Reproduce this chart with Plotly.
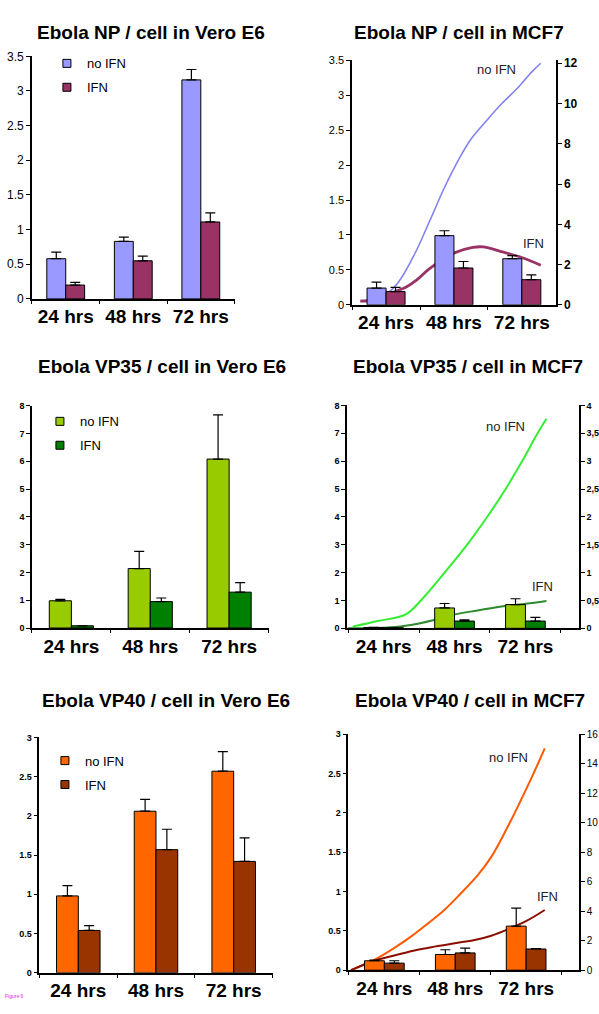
import plotly.graph_objects as go

W, H = 599, 1014
FONT = "Arial, Liberation Sans, sans-serif"

# ---------------- data ----------------
categories = ["24 hrs", "48 hrs", "72 hrs"]
series_names = ["no IFN", "IFN"]
titles = ["Ebola NP / cell in Vero E6", "Ebola NP / cell in MCF7",
          "Ebola VP35 / cell in Vero E6", "Ebola VP35 / cell in MCF7",
          "Ebola VP40 / cell in Vero E6", "Ebola VP40 / cell in MCF7"]

# NP in Vero E6
np_vero_noifn = [0.58, 0.83, 3.16]
np_vero_noifn_err = [0.095, 0.062, 0.15]
np_vero_ifn = [0.20, 0.55, 1.11]
np_vero_ifn_err = [0.038, 0.066, 0.13]

# NP in MCF7 (bars, left axis)
np_mcf7_noifn = [0.24, 0.99, 0.66]
np_mcf7_noifn_err = [0.085, 0.07, 0.045]
np_mcf7_ifn = [0.19, 0.527, 0.36]
np_mcf7_ifn_err = [0.06, 0.093, 0.07]
# NP in MCF7 (curves, right axis) - time in hours
np_curve_noifn_hrs = [15, 25.2, 28.9, 34.2, 39.5, 44.7, 50.0, 54.1, 59.4, 64.6, 70.5, 75.7, 78.7]
np_curve_noifn = [0.15, 0.66, 1.23, 2.55, 4.19, 5.84, 7.3, 8.25, 9.13, 9.95, 10.77, 11.6, 12.0]
np_curve_ifn_hrs = [14.9, 17.2, 24, 31.3, 34.8, 39.5, 48.2, 54.7, 58.2, 65.2, 72.2, 78.7]
np_curve_ifn = [0.2, 0.2, 0.5, 0.9, 1.23, 1.81, 2.58, 2.85, 2.88, 2.63, 2.34, 1.97]

# VP35 in Vero E6
vp35_vero_noifn = [0.98, 2.14, 6.08]
vp35_vero_noifn_err = [0.05, 0.62, 1.59]
vp35_vero_ifn = [0.08, 0.95, 1.29]
vp35_vero_ifn_err = [0.0, 0.13, 0.34]

# VP35 in MCF7
vp35_mcf7_noifn = [0.03, 0.73, 0.85]
vp35_mcf7_noifn_err = [0.0, 0.16, 0.21]
vp35_mcf7_ifn = [0.02, 0.26, 0.26]
vp35_mcf7_ifn_err = [0.0, 0.04, 0.13]
vp35_curve_noifn_hrs = [13.5, 22.0, 31.5, 36.6, 44.5, 52.4, 59.2, 65.4, 71.0, 76.1, 79.1]
vp35_curve_noifn = [0.03, 0.13, 0.25, 0.50, 0.99, 1.51, 2.01, 2.51, 3.01, 3.50, 3.76]
vp35_curve_ifn_hrs = [11.8, 24.2, 33.2, 41.1, 48.1, 55.8, 65.1, 72.1, 79.1]
vp35_curve_ifn = [0.0, 0.01, 0.06, 0.15, 0.25, 0.32, 0.40, 0.44, 0.49]

# VP40 in Vero E6
vp40_vero_noifn = [0.98, 2.06, 2.57]
vp40_vero_noifn_err = [0.13, 0.15, 0.25]
vp40_vero_ifn = [0.54, 1.57, 1.42]
vp40_vero_ifn_err = [0.06, 0.26, 0.30]

# VP40 in MCF7
vp40_mcf7_noifn = [0.12, 0.20, 0.56]
vp40_mcf7_noifn_err = [0.01, 0.06, 0.23]
vp40_mcf7_ifn = [0.09, 0.22, 0.27]
vp40_mcf7_ifn_err = [0.03, 0.06, 0.005]
vp40_curve_noifn_hrs = [12.7, 17.2, 21.7, 27.4, 33.1, 38.7, 44.4, 50.0, 55.7, 60.2, 64.8, 69.3, 73.8, 78.3]
vp40_curve_noifn = [0.0, 0.4, 0.82, 1.51, 2.29, 3.16, 4.10, 5.23, 6.46, 7.68, 9.35, 11.14, 13.03, 15.03]
vp40_curve_ifn_hrs = [12.7, 19.5, 27.4, 34.2, 41.0, 47.8, 54.6, 60.2, 65.9, 72.1, 78.3]
vp40_curve_ifn = [0.0, 0.56, 1.0, 1.34, 1.6, 1.83, 2.05, 2.34, 2.78, 3.34, 4.08]

# tick values / labels
ticks_0_35 = [0, 0.5, 1, 1.5, 2, 2.5, 3, 3.5]
ticks_0_35_text = ["0", "0.5", "1", "1.5", "2", "2.5", "3", "3.5"]
ticks_0_12 = [0, 2, 4, 6, 8, 10, 12]
ticks_0_8 = [0, 1, 2, 3, 4, 5, 6, 7, 8]
ticks_0_4 = [0, 0.5, 1, 1.5, 2, 2.5, 3, 3.5, 4]
ticks_0_4_text = ["0", "0,5", "1", "1,5", "2", "2,5", "3", "3,5", "4"]
ticks_0_3 = [0, 0.5, 1, 1.5, 2, 2.5, 3]
ticks_0_3_text = ["0", "0.5", "1", "1.5", "2", "2.5", "3"]
ticks_0_16 = [0, 2, 4, 6, 8, 10, 12, 14, 16]

# colours
np_cols = ["#9999FF", "#993366"]
np_line_cols = ["#8282F2", "#993366"]
vp35_cols = ["#99CC00", "#008000"]
vp35_line_cols = ["#33EE33", "#2E8B2E"]
vp40_cols = ["#FF6600", "#993300"]
vp40_line_cols = ["#FF5A00", "#8B0F00"]


def dx(a, b):
    return [a / W, b / W]


def dy(top, bottom):
    return [1 - bottom / H, 1 - top / H]


fig = go.Figure()


def add_bars(xa, ya, noifn, noifn_err, ifn, ifn_err, cols):
    for vals, errs, col, name in [(noifn, noifn_err, cols[0], series_names[0]),
                                  (ifn, ifn_err, cols[1], series_names[1])]:
        fig.add_trace(go.Bar(
            x=categories, y=vals, name=name, showlegend=False,
            marker=dict(color=col, line=dict(color="black", width=1)),
            error_y=dict(type="data", symmetric=False, array=errs,
                         arrayminus=[0] * len(errs), color="black",
                         thickness=1.2, width=5),
            xaxis=xa, yaxis=ya))


def add_legend(xa, ya, cols, legend_id):
    for col, name in zip(cols, series_names):
        fig.add_trace(go.Scatter(
            x=[None], y=[None], mode="markers", name=name,
            marker=dict(symbol="square", size=8, color=col,
                        line=dict(color="black", width=1)),
            legend=legend_id, legendgroup=legend_id + name,
            xaxis=xa, yaxis=ya))


def add_curves(xa, ya, hrs_a, vals_a, hrs_b, vals_b, cols, widths):
    for h, v, col, w, name in [(hrs_a, vals_a, cols[0], widths[0], series_names[0]),
                               (hrs_b, vals_b, cols[1], widths[1], series_names[1])]:
        fig.add_trace(go.Scatter(
            x=h, y=v, mode="lines", name=name, showlegend=False,
            line=dict(color=col, width=w, shape="spline", smoothing=1.0),
            xaxis=xa, yaxis=ya))


# panel 1
add_bars("x", "y", np_vero_noifn, np_vero_noifn_err, np_vero_ifn, np_vero_ifn_err, np_cols)
add_legend("x", "y", np_cols, "legend")
# panel 2: curves on main subplot, bars on overlay (drawn on top)
add_curves("x2", "y2", np_curve_noifn_hrs, np_curve_noifn, np_curve_ifn_hrs, np_curve_ifn,
           np_line_cols, [1.6, 2.8])
add_bars("x3", "y3", np_mcf7_noifn, np_mcf7_noifn_err, np_mcf7_ifn, np_mcf7_ifn_err, np_cols)
# panel 3
add_bars("x4", "y4", vp35_vero_noifn, vp35_vero_noifn_err, vp35_vero_ifn, vp35_vero_ifn_err, vp35_cols)
add_legend("x4", "y4", vp35_cols, "legend2")
# panel 4
add_curves("x5", "y5", vp35_curve_noifn_hrs, vp35_curve_noifn, vp35_curve_ifn_hrs, vp35_curve_ifn,
           vp35_line_cols, [2.0, 2.0])
add_bars("x6", "y6", vp35_mcf7_noifn, vp35_mcf7_noifn_err, vp35_mcf7_ifn, vp35_mcf7_ifn_err, vp35_cols)
# panel 5
add_bars("x7", "y7", vp40_vero_noifn, vp40_vero_noifn_err, vp40_vero_ifn, vp40_vero_ifn_err, vp40_cols)
add_legend("x7", "y7", vp40_cols, "legend3")
# panel 6
add_curves("x8", "y8", vp40_curve_noifn_hrs, vp40_curve_noifn, vp40_curve_ifn_hrs, vp40_curve_ifn,
           vp40_line_cols, [2.0, 2.0])
add_bars("x9", "y9", vp40_mcf7_noifn, vp40_mcf7_noifn_err, vp40_mcf7_ifn, vp40_mcf7_ifn_err, vp40_cols)

AX = dict(showline=True, linecolor="black", linewidth=1.5, showgrid=False,
          zeroline=False, ticks="outside", tickcolor="black", tickwidth=1.2,
          color="black")


def cat_x(domain=None, rng=(-0.5, 2.5), anchor=None, overlay=None):
    d = dict(AX, type="category", range=list(rng), tickson="boundaries", ticklen=3,
             tickfont=dict(family=FONT, size=19, color="black", weight="bold"),
             fixedrange=True)
    if domain is not None:
        d["domain"] = domain
    if anchor:
        d["anchor"] = anchor
    if overlay:
        d["overlaying"] = overlay
    return d


def val_y(domain, rng, tv, tt, size, side="left", anchor=None, overlay=None, bold=False):
    d = dict(AX, range=list(rng), tickvals=tv, ticktext=tt, ticklen=4, side=side,
             tickfont=dict(family=FONT, size=size, color="black",
                           weight="bold" if bold else "normal"), fixedrange=True)
    if domain is not None:
        d["domain"] = domain
    if anchor:
        d["anchor"] = anchor
    if overlay:
        d["overlaying"] = overlay
    return d


def hidden_x(domain, rng, anchor):
    return dict(domain=domain, range=list(rng), visible=False, anchor=anchor, fixedrange=True)


layout_axes = {
    # panel 1
    "xaxis": cat_x(dx(32, 235), anchor="y"),
    "yaxis": val_y(dy(50, 296), (0, 3.5), ticks_0_35, ticks_0_35_text, 12, anchor="x"),
    # panel 2
    "xaxis2": hidden_x(dx(352.7, 556.7), (12, 84), "y2"),
    "yaxis2": val_y(dy(54, 302), (0, 12.15), ticks_0_12, [str(t) for t in ticks_0_12], 12,
                    side="right", anchor="x2", bold=True),
    "xaxis3": cat_x(rng=(-0.5, 2.5), anchor="y3", overlay="x2"),
    "yaxis3": val_y(None, (0, 3.5), ticks_0_35, ticks_0_35_text, 11, anchor="x3", overlay="y2"),
    # panel 3
    "xaxis4": cat_x(dx(32, 269), anchor="y4"),
    "yaxis4": val_y(dy(404.3, 629.7), (0, 8), ticks_0_8, [str(t) for t in ticks_0_8], 9,
                    anchor="x4", bold=True),
    # panel 4
    "xaxis5": hidden_x(dx(347.7, 580), (11.64, 90.14), "y5"),
    "yaxis5": val_y(dy(404, 630), (0, 4), ticks_0_4, ticks_0_4_text, 9, side="right",
                    anchor="x5", bold=True),
    "xaxis6": cat_x(rng=(-0.515, 2.756), anchor="y6", overlay="x5"),
    "yaxis6": val_y(None, (0, 8), ticks_0_8, [str(t) for t in ticks_0_8], 9, anchor="x6",
                    overlay="y5", bold=True),
    # panel 5
    "xaxis7": cat_x(dx(39.5, 273), anchor="y7"),
    "yaxis7": val_y(dy(740.7, 979.3), (0, 3), ticks_0_3, ticks_0_3_text, 9, anchor="x7", bold=True),
    # panel 6
    "xaxis8": hidden_x(dx(349, 580), (11.83, 89.9), "y8"),
    "yaxis8": val_y(dy(737.3, 976.7), (0, 16), ticks_0_16, [str(t) for t in ticks_0_16], 10,
                    side="right", anchor="x8"),
    "xaxis9": cat_x(rng=(-0.507, 2.746), anchor="y9", overlay="x8"),
    "yaxis9": val_y(None, (0, 3), ticks_0_3, ticks_0_3_text, 9, anchor="x9", overlay="y8", bold=True),
}

# titles and in-plot labels
title_pos = [(151, 26), (460, 26), (162, 365), (469, 365), (166, 703), (471, 703)]
annotations = []
for t, (px, py) in zip(titles, title_pos):
    annotations.append(dict(text="<b>" + t + "</b>", x=px / W, y=1 - py / H, xref="paper",
                            yref="paper", showarrow=False, xanchor="center", yanchor="middle",
                            font=dict(family=FONT, size=19, color="black")))
label_pos = [(497, 63, series_names[0]), (534, 240, series_names[1]),
             (506, 425, series_names[0]), (543, 588, series_names[1]),
             (509, 761, series_names[0]), (548, 902, series_names[1])]
for px, py, txt in label_pos:
    annotations.append(dict(text=txt, x=px / W, y=1 - py / H, xref="paper", yref="paper",
                            showarrow=False, xanchor="center", yanchor="middle",
                            font=dict(family=FONT, size=13, color="#222222")))
annotations.append(dict(text="Figure 6", x=3 / W, y=1 - 1003 / H, xref="paper", yref="paper",
                        showarrow=False, xanchor="left", yanchor="middle",
                        font=dict(family=FONT, size=5, color="#E020E0")))

LEG = dict(xanchor="left", yanchor="top", bgcolor="rgba(0,0,0,0)", borderwidth=0,
           font=dict(family=FONT, size=13, color="black"), tracegroupgap=4,
           itemclick=False, itemdoubleclick=False)

fig.update_layout(
    width=W, height=H, margin=dict(l=0, r=0, t=0, b=0, pad=0),
    paper_bgcolor="white", plot_bgcolor="white",
    barmode="group", bargap=0.44, bargroupgap=0,
    font=dict(family=FONT, color="black"),
    annotations=annotations,
    legend=dict(LEG, x=47 / W, y=1 - 42 / H),
    legend2=dict(LEG, x=40 / W, y=1 - 405 / H),
    legend3=dict(LEG, x=45 / W, y=1 - 749 / H),
    **layout_axes,
)

fig.write_html("out.html", config={"displayModeBar": False},
               post_script="document.body.style.margin='0';")
